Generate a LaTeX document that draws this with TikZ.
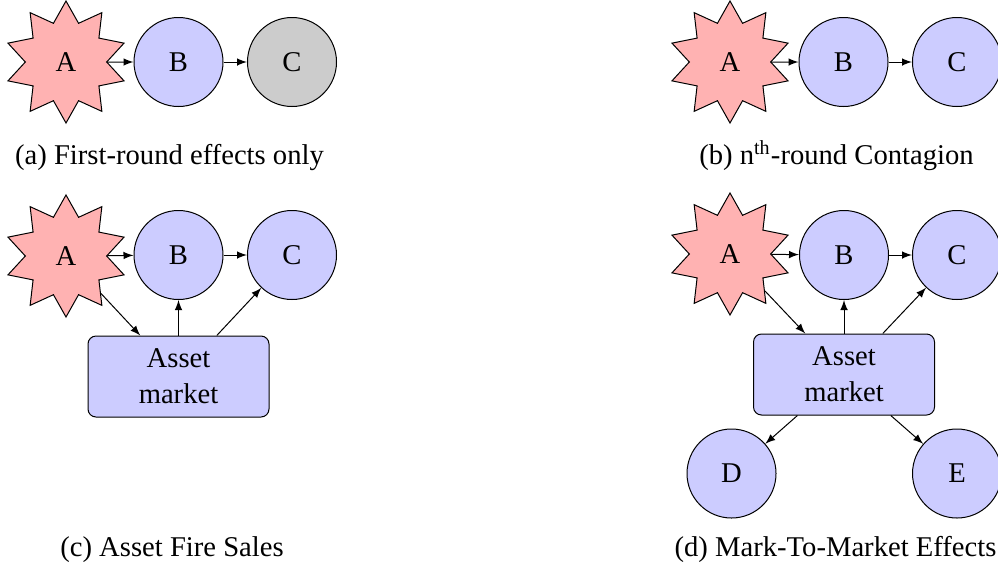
\documentclass[tikz,border=0pt]{standalone}
\usepackage{fontspec}
\setmainfont{Liberation Serif}
\usetikzlibrary{shapes.geometric,arrows}
\begin{document}
\begin{tikzpicture}[x=0.4pt,y=-0.4pt,
  every node/.style={font=\fontsize{11.45}{14.4}\selectfont},
  shock/.style={star, star points=10, star point ratio=1.5, draw, fill=red!30, minimum size=48.8pt, inner sep=0pt},
  bank/.style={circle, draw, fill=blue!20, minimum size=35.6pt, inner sep=0pt},
  greybank/.style={circle, draw, fill=black!20, minimum size=35.6pt, inner sep=0pt},
  market/.style={rectangle, rounded corners=3.2pt, draw, fill=blue!20, minimum width=72.4pt, minimum height=32.4pt, align=center, inner sep=0pt},
  conn/.style={-latex, thin},
  captext/.style={anchor=base}]
\useasboundingbox (0,0) rectangle (998,567);
% (a)
\node[shock] (aA) at (66,62) {A};
\node[bank] (aB) at (178.5,62) {B};
\node[greybank] (aC) at (292,62) {C};
\draw[conn] (aA) -- (aB);
\draw[conn] (aB) -- (aC);
\node[captext] (acap) at (169.5,164) {(a) First-round effects only};
% (b)
\node[shock] (bA) at (730,62) {A};
\node[bank] (bB) at (843.5,62) {B};
\node[bank] (bC) at (957,62) {C};
\draw[conn] (bA) -- (bB);
\draw[conn] (bB) -- (bC);
\node[captext] (bcap) at (836.5,164) {(b) n\textsuperscript{th}-round Contagion};
% (c)
\node[shock] (cA) at (66,256) {A};
\node[bank] (cB) at (178.5,255) {B};
\node[bank] (cC) at (292,255) {C};
\node[market] (cM) at (178.5,376.5) {Asset\\market};
\draw[conn] (cA) -- (cB);
\draw[conn] (cB) -- (cC);
\draw[conn] (cA) -- (cM);
\draw[conn] (cM) -- (cB);
\draw[conn] (cM) -- (cC);
\node[captext] (ccap) at (172,556) {(c) Asset Fire Sales};
% (d)
\node[shock] (dA) at (730,254) {A};
\node[bank] (dB) at (844,255) {B};
\node[bank] (dC) at (957,255) {C};
\node[market] (dM) at (844,374.5) {Asset\\market};
\node[bank] (dD) at (731.5,473.5) {D};
\node[bank] (dE) at (957,473.5) {E};
\draw[conn] (dA) -- (dB);
\draw[conn] (dB) -- (dC);
\draw[conn] (dA) -- (dM);
\draw[conn] (dM) -- (dB);
\draw[conn] (dM) -- (dC);
\draw[conn] (dM) -- (dD);
\draw[conn] (dM) -- (dE);
\node[captext] (dcap) at (835.5,556) {(d) Mark-To-Market Effects};
\end{tikzpicture}
\end{document}
